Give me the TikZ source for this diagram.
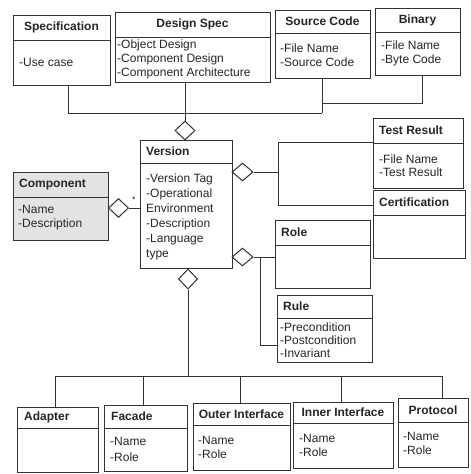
\documentclass[tikz,border=0pt]{standalone}
\usepackage{fontspec}
\setmainfont{Liberation Sans}
\usetikzlibrary{shapes.geometric,fit}
\begin{document}
\begin{tikzpicture}[x=1pt,y=-1pt,
  box/.style={draw=black!80, line width=1pt, inner sep=0pt, fill=white},
  divline/.style={draw=black!80, line width=1pt},
  conn/.style={draw=black!80, line width=1pt},
  title/.style={font=\fontsize{12}{13}\selectfont\bfseries, inner sep=0pt, text=black!85},
  attr/.style={font=\fontsize{12}{#1}\selectfont, align=left, inner sep=0pt, anchor=west, text=black!85},
  attr/.default=14,
  agg/.style={diamond, draw=black!80, line width=1pt, fill=white, minimum width=20pt, minimum height=19pt, inner sep=0pt}
]
\useasboundingbox (0,0) rectangle (471,474);
\fill[white] (0,0) rectangle (471,474);

% ---------- top row ----------
\node[box, fit={(13,15) (110,85)}] (spec) {};
\draw[divline] (13,40) -- (110,40);
\node[title] (specT) at (61.5,27.5) {Specification};
\node[attr] (specA) at (19,62) {-Use case};

\node[box, fit={(115,12) (270,82)}] (design) {};
\draw[divline] (115,37) -- (270,37);
\node[title] (designT) at (192.5,24.5) {Design Spec};
\node[attr] (designA) at (117,59) {-Object Design\\-Component Design\\-Component Architecture};

\node[box, fit={(275,10) (370,78)}] (src) {};
\draw[divline] (275,33) -- (370,33);
\node[title] (srcT) at (322.5,21.5) {Source Code};
\node[attr] (srcA) at (280,55) {-File Name\\-Source Code};

\node[box, fit={(375,8) (460,75)}] (bin) {};
\draw[divline] (375,32) -- (460,32);
\node[title] (binT) at (417.5,20) {Binary};
\node[attr] (binA) at (381,53) {-File Name\\-Byte Code};

% ---------- middle ----------
\node[box, fit={(140,140) (232,268)}] (ver) {};
\draw[divline] (140,163) -- (232,163);
\node[title, anchor=west] (verT) at (146,151.5) {Version};
\node[attr=15] (verA) at (146,216.5) {-Version Tag\\-Operational\\Environment\\-Description\\-Language\\type};

\node[box, fill=gray!22, fit={(13,172) (108,240)}] (comp) {};
\draw[divline] (13,197) -- (108,197);
\node[title, anchor=west] (compT) at (19,184.5) {Component};
\node[attr] (compA) at (18,218) {-Name\\-Description};

\node[box, fit={(373,118) (463,188)}] (test) {};
\draw[divline] (373,143) -- (463,143);
\node[title, anchor=west] (testT) at (379,130.5) {Test Result};
\node[attr=12.5] (testA) at (379,165.5) {-File Name\\-Test Result};

\node[box, fit={(373,190) (465,258)}] (cert) {};
\draw[divline] (373,215) -- (465,215);
\node[title, anchor=west] (certT) at (379,202.5) {Certification};

\node[box, fit={(275,220) (370,288)}] (role) {};
\draw[divline] (275,245) -- (370,245);
\node[title, anchor=west] (roleT) at (281,232.5) {Role};

\node[box, fit={(277,295) (372,362)}] (rule) {};
\draw[divline] (277,318) -- (372,318);
\node[title, anchor=west] (ruleT) at (283,306.5) {Rule};
\node[attr=13] (ruleA) at (280,340.5) {-Precondition\\-Postcondition\\-Invariant};

% ---------- bottom row ----------
\node[box, fit={(17,407) (98,472)}] (adapt) {};
\draw[divline] (17,428) -- (98,428);
\node[title, anchor=west] (adaptT) at (24,417.5) {Adapter};

\node[box, fit={(104,405) (187,471)}] (facade) {};
\draw[divline] (104,428) -- (187,428);
\node[title, anchor=west] (facadeT) at (111,416.5) {Facade};
\node[attr=16] (facadeA) at (110,449) {-Name\\-Role};

\node[box, fit={(193,403) (290,470)}] (outer) {};
\draw[divline] (193,425) -- (290,425);
\node[title] (outerT) at (241.5,414) {Outer Interface};
\node[attr] (outerA) at (198,447) {-Name\\-Role};

\node[box, fit={(293,402) (393,468)}] (inner) {};
\draw[divline] (293,423) -- (393,423);
\node[title] (innerT) at (343,412.5) {Inner Interface};
\node[attr] (innerA) at (299,445) {-Name\\-Role};

\node[box, fit={(398,398) (468,467)}] (proto) {};
\draw[divline] (398,422) -- (468,422);
\node[title] (protoT) at (433,410) {Protocol};
\node[attr] (protoA) at (403,443.5) {-Name\\-Role};

% ---------- aggregation diamonds ----------
\node[agg, minimum height=19pt] (dTop) at (185,130.5) {};
\node[agg, minimum height=19pt] (dComp) at (118.5,208) {};
\node[agg, minimum width=21pt, minimum height=18pt] (dTest) at (242.5,172) {};
\node[agg, minimum width=21pt, minimum height=18pt] (dRole) at (242.5,257) {};
\node[agg, minimum width=19pt, minimum height=20pt] (dBot) at (188,279) {};

% ---------- connectors ----------
\coordinate (busR) at (322,113);
\draw[conn] (spec.south -| 68,0) |- (busR);
\draw[conn] (src.south -| busR) -- (busR);
\draw[conn] (bin.south -| 422,0) |- (322,103);
\draw[conn] (dTop.north |- design.south) -- (dTop.north);

\draw[conn] (dComp.east) -- (dComp.east -| ver.west);
\node[font=\fontsize{8}{8}\selectfont, inner sep=0pt] (mult) at (134,200) {*};

\coordinate (brT) at (278,142);
\coordinate (brB) at (278,205);
\draw[conn] (dTest.east) -- (dTest.east -| brT);
\draw[conn] (test.west |- brT) -- (brT) -- (brB) -- (cert.west |- brB);

\coordinate (ruleJ) at (260,257);
\draw[conn] (dRole.east) -- (role.west |- dRole.east);
\draw[conn] (ruleJ) |- (rule.west |- 0,345);

\coordinate (busB) at (188,376);
\draw[conn] (dBot.south) -- (busB);
\draw[conn] (adapt.north -| 55,0) |- (442,376) -- (proto.north -| 442,0);
\draw[conn] (facade.north -| 143,0) -- (143,376);
\draw[conn] (outer.north -| 240,0) -- (240,376);
\draw[conn] (inner.north -| 341,0) -- (341,376);
\end{tikzpicture}
\end{document}
